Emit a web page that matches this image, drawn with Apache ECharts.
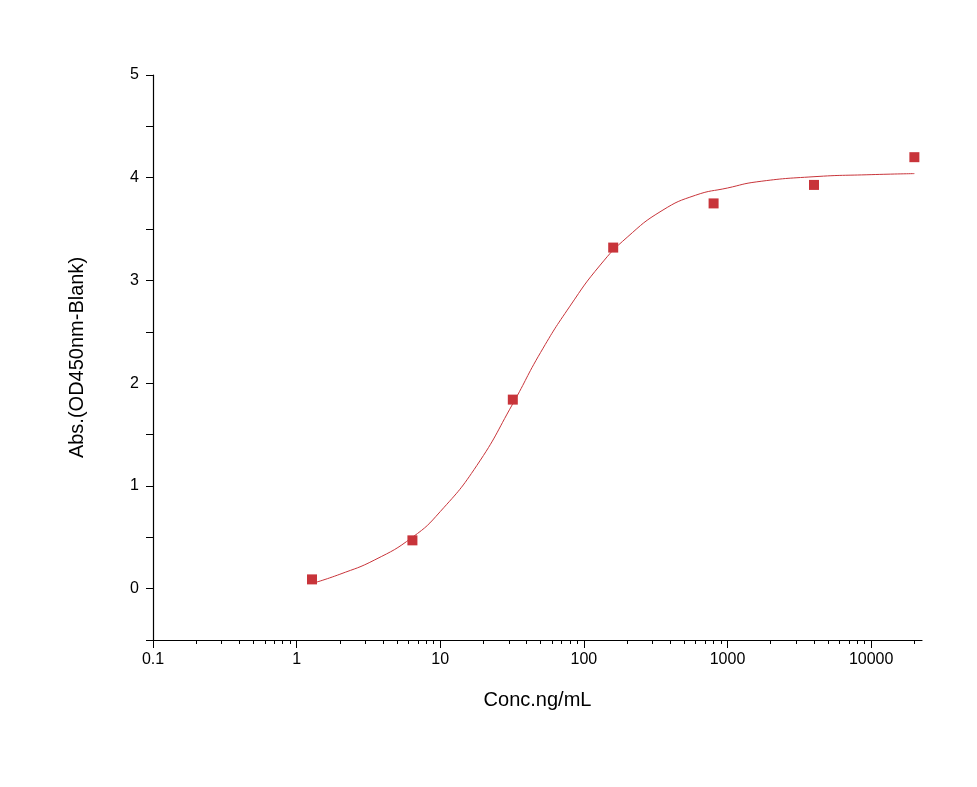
<!DOCTYPE html>
<html>
<head>
<meta charset="utf-8">
<script src="https://cdn.jsdelivr.net/npm/echarts@6/dist/echarts.min.js"></script>
<style>html,body{margin:0;background:#fff}#chart{width:977px;height:787px}</style>
</head>
<body>
<div id="chart"></div>
<script>
// measured points
var concX = [1.28, 6.4, 32, 160, 800, 4000, 20000];
var absY = [0.09, 0.47, 1.84, 3.32, 3.75, 3.93, 4.20];
// fitted curve
var fitX = [1.28, 2, 3.5, 6.4, 10, 18, 32, 50, 80, 130, 200, 350, 600, 1000, 1600, 4000, 10000, 20000];
var fitY = [0.05, 0.14, 0.28, 0.50, 0.75, 1.2, 1.8, 2.3, 2.75, 3.15, 3.42, 3.68, 3.83, 3.90, 3.96, 4.01, 4.03, 4.04];
var majorTicks = [0.1, 1, 10, 100, 1000, 10000];
var minorTicks = [];
[0.1, 1, 10, 100, 1000, 10000].forEach(function (d) {
    for (var k = 2; k <= 9; k++) {
        if (d * k < 22600) minorTicks.push(+(d * k).toPrecision(3));
    }
});

var chart = echarts.init(document.getElementById('chart'));
var font = 'Liberation Sans, Arial, sans-serif';
var option = {
    animation: false,
    grid: {left: 153, right: 55, top: 75, bottom: 147},
    xAxis: [{
        type: 'log', logBase: 10, min: 0.1, max: 22600,
        name: 'Conc.ng/mL', nameLocation: 'middle', nameGap: 50,
        nameTextStyle: {fontSize: 20, fontFamily: font, color: '#000'},
        axisLine: {onZero: false, lineStyle: {color: '#000', width: 1.2}},
        axisTick: {length: 8, lineStyle: {color: '#000'}, customValues: majorTicks},
        axisLabel: {fontSize: 16, fontFamily: font, color: '#000', margin: 12, customValues: majorTicks,
            formatter: function (v) { return String(v); }},
        splitLine: {show: false}
    }, {
        type: 'log', logBase: 10, min: 0.1, max: 22600, position: 'bottom',
        axisLine: {show: false, onZero: false},
        axisTick: {length: 4, lineStyle: {color: '#000'}, customValues: minorTicks},
        axisLabel: {show: false},
        splitLine: {show: false}
    }],
    yAxis: {
        type: 'value', min: -0.5, max: 5, interval: 0.5,
        name: 'Abs.(OD450nm-Blank)', nameLocation: 'middle', nameGap: 66,
        nameTextStyle: {fontSize: 20, fontFamily: font, color: '#000'},
        axisLine: {show: true, onZero: false, lineStyle: {color: '#000', width: 1.2}},
        axisTick: {length: 7, lineStyle: {color: '#000'}},
        axisLabel: {fontSize: 16, fontFamily: font, color: '#000', margin: 14,
            formatter: function (v) { return Math.abs(v % 1) < 1e-9 ? String(v) : ''; }},
        splitLine: {show: false}
    },
    series: [{
        type: 'line', smooth: true, symbol: 'none',
        lineStyle: {color: '#c8343a', width: 1},
        data: fitX.map(function (x, i) { return [x, fitY[i]]; })
    }, {
        type: 'scatter', symbol: 'rect', symbolSize: 10,
        itemStyle: {color: '#c8343a', opacity: 1},
        data: concX.map(function (x, i) { return [x, absY[i]]; })
    }]
};
chart.setOption(option);
</script>
</body>
</html>
